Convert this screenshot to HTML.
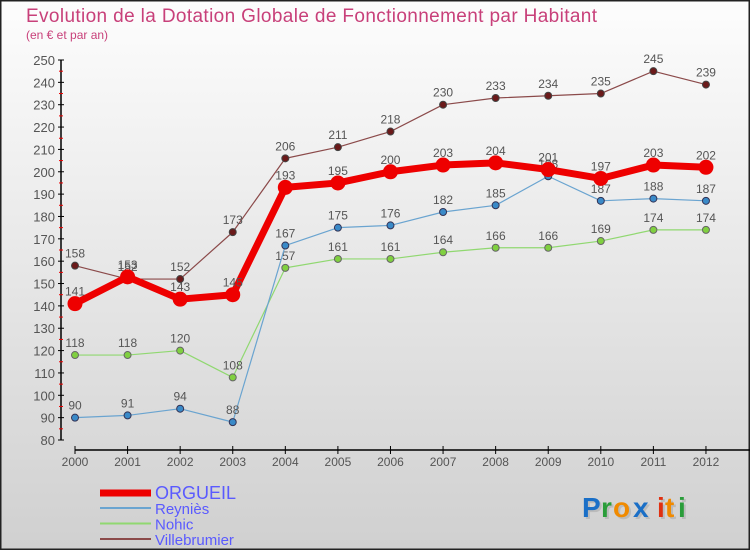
<!DOCTYPE html>
<html><head><meta charset="utf-8"><style>
html,body{margin:0;padding:0}
body{width:750px;height:550px;overflow:hidden;font-family:"Liberation Sans",sans-serif}
</style></head><body>
<svg width="750" height="550" xmlns="http://www.w3.org/2000/svg">
<defs><linearGradient id="bg" x1="0" y1="0" x2="0" y2="1"><stop offset="0" stop-color="#fdfdfd"/><stop offset="1" stop-color="#d0d0d0"/></linearGradient></defs>
<rect x="0.5" y="0.5" width="749" height="549" fill="url(#bg)" stroke="#222" stroke-width="2"/>
<text x="26" y="22" font-size="19" fill="#c8407a" textLength="571">Evolution de la Dotation Globale de Fonctionnement par Habitant</text>
<text x="26" y="39" font-size="12" fill="#c8407a">(en € et par an)</text>
<g id="axes"></g><g id="series"></g><g id="legend"></g>
<g font-size="28" font-weight="bold">
<g fill="#bbb" transform="translate(2,2)"><text x="582" y="517">P</text><text x="601" y="517">r</text><text x="613" y="517">o</text><text x="633" y="517">x</text><text x="657" y="517">i</text><text x="665" y="517">t</text><text x="678" y="517">i</text></g>
<text x="582" y="517" fill="#1a6fc7">P</text><text x="601" y="517" fill="#2a9d3a">r</text><text x="613" y="517" fill="#f08a00">o</text><text x="633" y="517" fill="#1a6fc7">x</text><text x="657" y="517" fill="#e03010">i</text><text x="665" y="517" fill="#f08a00">t</text><text x="678" y="517" fill="#2a9d3a">i</text>
</g>
</svg>
<script>
const years=[2000,2001,2002,2003,2004,2005,2006,2007,2008,2009,2010,2011,2012];
const yTicks=[80,90,100,110,120,130,140,150,160,170,180,190,200,210,220,230,240,250];
const orgueil=[141,153,143,145,193,195,200,203,204,201,197,203,202];
const reynies=[90,91,94,88,167,175,176,182,185,198,187,188,187];
const nohic=[118,118,120,108,157,161,161,164,166,166,169,174,174];
const villebrumier=[158,152,152,173,206,211,218,230,233,234,235,245,239];
const NS="http://www.w3.org/2000/svg";
const X=i=>75+i*52.58;
const Y=v=>440-(v-80)*380/170;
function mk(tag,attrs,parent){const e=document.createElementNS(NS,tag);for(const k in attrs)e.setAttribute(k,attrs[k]);parent.appendChild(e);return e;}
const ax=document.getElementById('axes');
let a=mk('line',{x1:61,y1:Y(250),x2:61,y2:Y(80),stroke:'#000','stroke-width':1.5},ax);


yTicks.forEach(v=>{
 mk('line',{x1:58,y1:Y(v),x2:64,y2:Y(v),stroke:'#000'},ax);
 if(v<250){mk('line',{x1:59,y1:Y(v+5),x2:63,y2:Y(v+5),stroke:'#e00'},ax);}
 const t=mk('text',{x:55,y:Y(v)+5,'font-size':13,fill:'#555','text-anchor':'end'},ax);
 t.textContent=v;
 
 
});
a=mk('line',{x1:X(0),y1:450,x2:750,y2:450,stroke:'#000','stroke-width':1.5},ax);


years.forEach((y,i)=>{
 mk('line',{x1:X(i),y1:446,x2:X(i),y2:454,stroke:'#000'},ax);
 const t=mk('text',{x:X(i),y:466,'font-size':12,fill:'#555','text-anchor':'middle'},ax);
 t.textContent=y;
 
 
});
const sg=document.getElementById('series');
function series(name,vals,color,dot,lw,r,edge){
 const g=mk('g',{},sg);
 
 
 const p=mk('polyline',{points:vals.map((v,i)=>X(i)+','+Y(v)).join(' '),fill:'none',stroke:color,'stroke-width':lw,'stroke-linejoin':'round'},g);
 
 
 vals.forEach((v,i)=>{
  const c=mk('circle',{cx:X(i),cy:Y(v),r:r,fill:dot,stroke:edge,'stroke-width':1},g);
  
  
  const t=mk('text',{x:X(i),y:Y(v)-8,'font-size':12,fill:'#555','text-anchor':'middle'},g);
  t.textContent=v;
  
  
 });
}
series('villebrumier',villebrumier,'#8b4a4a','#6b1a1a',1.2,3.5,'#444');
series('nohic',nohic,'#90d870','#80d040',1.2,3.5,'#666');
series('reynies',reynies,'#6aa4d0','#3a8ac8',1.2,3.5,'#335');
series('orgueil',orgueil,'#ee0000','#ee0000',7,7,'#e00');
const lg=document.getElementById('legend');
const items=[['ORGUEIL','#ee0000',7,18,493],['Reyniès','#6aa4d0',2,15,508],['Nohic','#90d870',2,15,523.5],['Villebrumier','#8b4a4a',2,15,539]];
items.forEach((it)=>{
 const y=it[4];
 const l=mk('line',{x1:100,y1:y,x2:151,y2:y,stroke:it[1],'stroke-width':it[2]},lg);
 
 
 const t=mk('text',{x:155,y:y+6,'font-size':it[3],fill:'#5a5aff'},lg);
 t.textContent=it[0];
 
 
});
</script>
</body></html>
